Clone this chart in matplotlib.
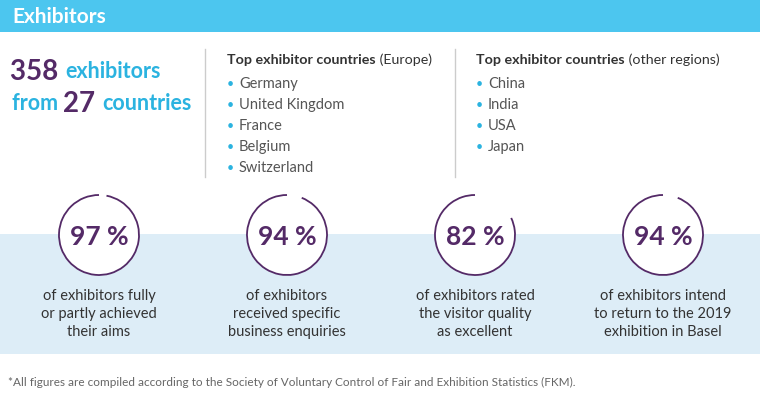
import matplotlib
matplotlib.use("Agg")
import matplotlib.pyplot as plt
from matplotlib.patches import Rectangle, Circle, Arc

W, H = 760, 402
PURPLE = "#542a67"
CYAN = "#2bb3e0"
GREY = "#555555"

total_exhibitors = 358
total_countries = 27
europe = ["Germany", "United Kingdom", "France", "Belgium", "Switzerland"]
other = ["China", "India", "USA", "Japan"]
percents = [97, 94, 82, 94]
captions = [
    "of exhibitors fully\nor partly achieved\ntheir aims",
    "of exhibitors\nreceived specific\nbusiness enquiries",
    "of exhibitors rated\nthe visitor quality\nas excellent",
    "of exhibitors intend\nto return to the 2019\nexhibition in Basel",
]
footnote = ("*All figures are compiled according to the Society of Voluntary "
            "Control of Fair and Exhibition Statistics (FKM).")

plt.rcParams["font.family"] = "Lato"
fig = plt.figure(figsize=(W / 100, H / 100), dpi=100)
ax = fig.add_axes([0, 0, 1, 1])
ax.set_xlim(0, W)
ax.set_ylim(H, 0)
ax.axis("off")

# header bar
ax.add_patch(Rectangle((0, 0), W, 33, color="#4cc6ef", lw=0))
ax.text(12, 17, "Exhibitors", color="white", fontsize=15, fontweight="bold", va="center")

# big numbers
t = ax.text(10, 72, f"{total_exhibitors} ", color=PURPLE, fontsize=20, fontweight="bold", va="center")
ax.annotate("exhibitors", xycoords=t, xy=(1, 0.5), va="center", color=CYAN,
            fontsize=15.5, fontweight="bold")
t = ax.text(12, 104, "from ", color=CYAN, fontsize=15.5, fontweight="bold", va="center")
t2 = ax.annotate(f"{total_countries} ", xycoords=t, xy=(1, 0.5), va="center", color=PURPLE,
                 fontsize=20, fontweight="bold")
ax.annotate("countries", xycoords=t2, xy=(1, 0.5), va="center", color=CYAN,
            fontsize=15.5, fontweight="bold")

# dividers
for x in (205, 455):
    ax.plot([x, x], [50, 178], color="#cccccc", lw=1)

def country_list(x, region, items):
    t = ax.text(x, 60, "Top exhibitor countries", color="#333333", fontsize=10.3,
                fontweight="bold", va="center")
    ax.annotate(f" ({region})", xycoords=t, xy=(1, 0.5), va="center",
                color="#333333", fontsize=10.3)
    for i, name in enumerate(items):
        y = 84 + i * 21
        ax.text(x, y, "•", color=CYAN, fontsize=9, va="center")
        ax.text(x + 12, y, name, color=GREY, fontsize=10.5, va="center")

country_list(227, "Europe", europe)
country_list(476, "other regions", other)

# light band
ax.add_patch(Rectangle((0, 235), W, 120, color="#ddedf7", lw=0))

centers = [99, 287, 475, 663]
for cx, p, cap in zip(centers, percents, captions):
    ax.add_patch(Circle((cx, 236), 40, color="white", lw=0, zorder=2))
    gap = (100 - p) * 3.6
    ax.add_patch(Arc((cx, 236), 80, 80, theta1=-90 + gap, theta2=270,
                     color=PURPLE, lw=1.3, zorder=3))
    ax.text(cx, 237, f"{p} %", color=PURPLE, fontsize=19, fontweight="bold",
            ha="center", va="center", zorder=4)
    ax.text(cx, 314, cap, color="#333333", fontsize=10.5, ha="center", va="center",
            linespacing=1.35)

ax.text(8, 382, footnote, color="#666666", fontsize=8.5, va="center")

fig.savefig("out.png", dpi=100)
